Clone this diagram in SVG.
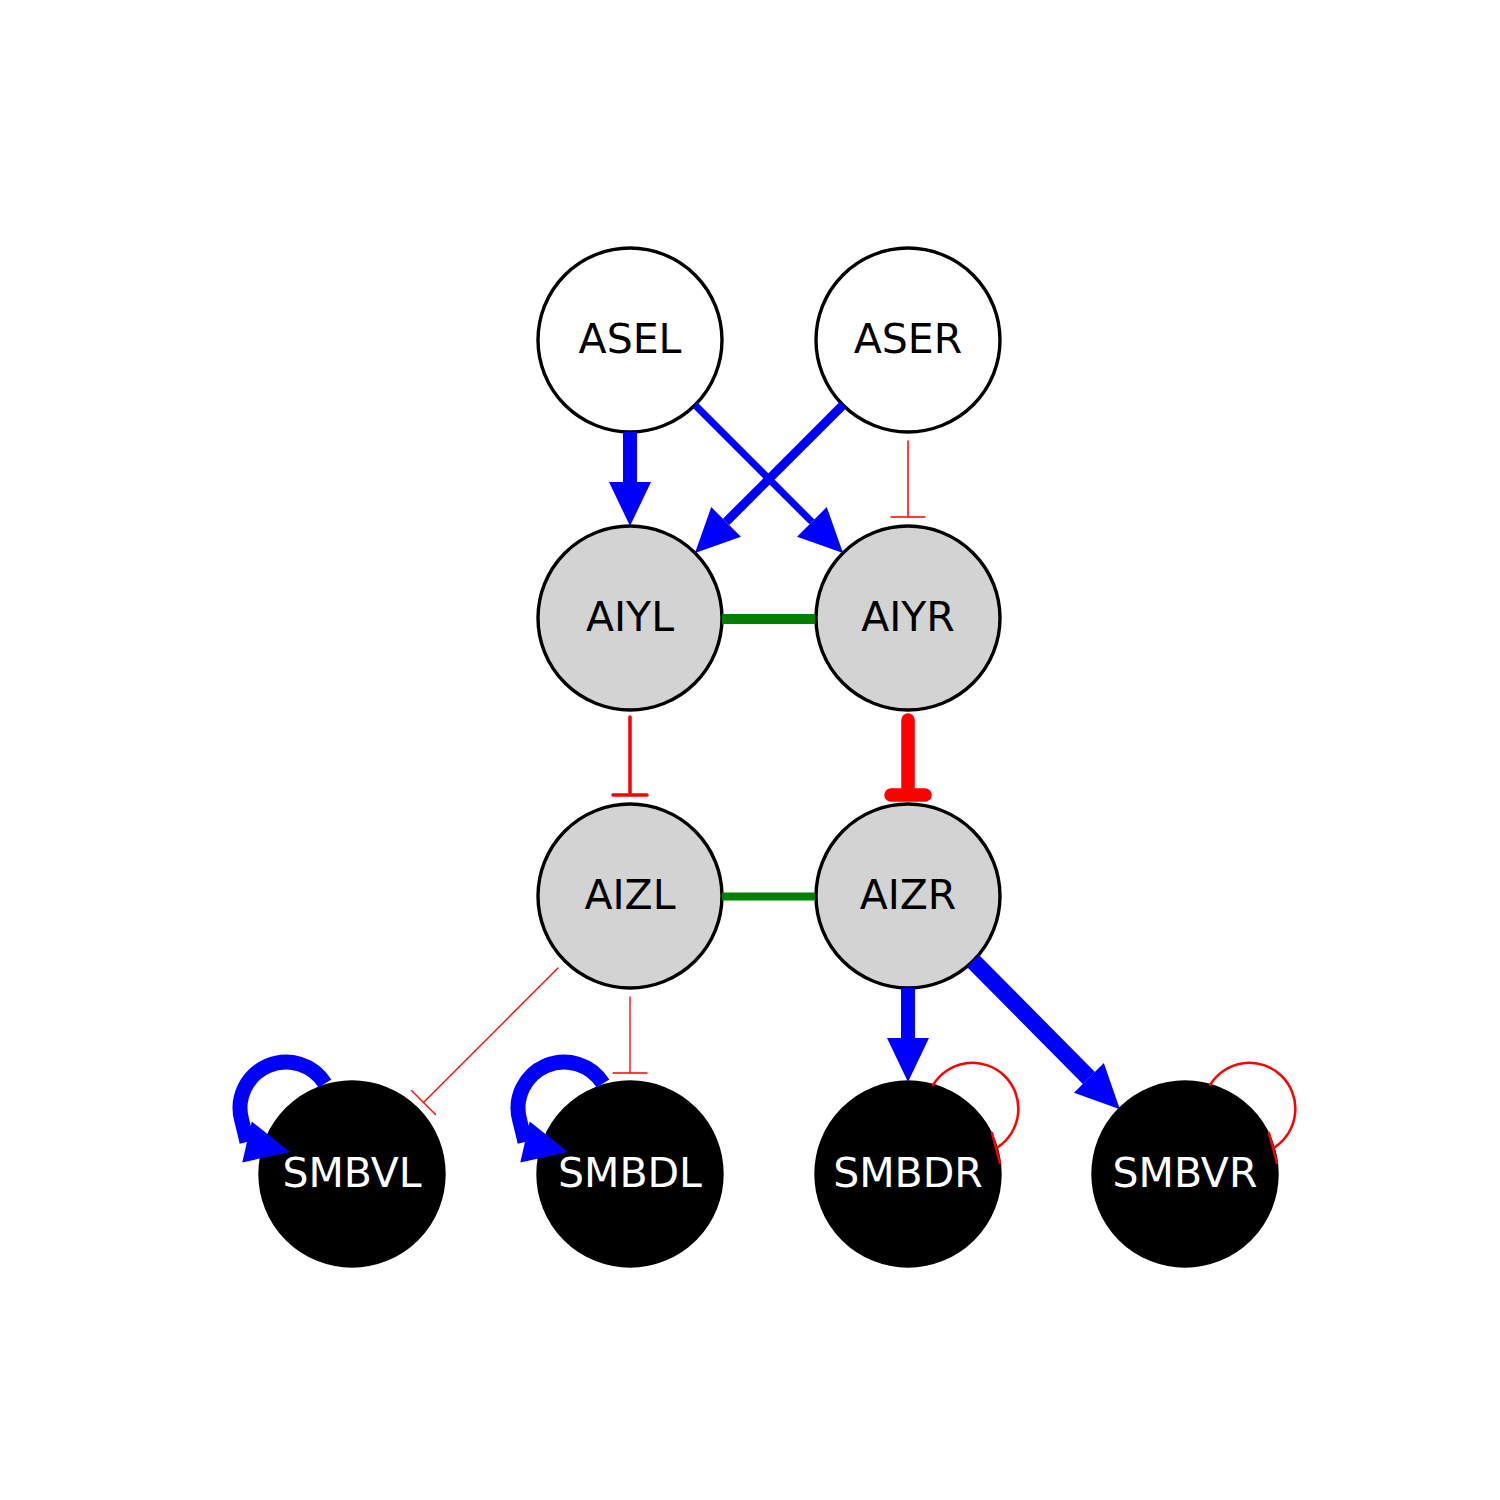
<svg xmlns="http://www.w3.org/2000/svg" width="1500" height="1500" viewBox="0 0 1500 1500">
<style>
.node circle{stroke:#000;stroke-width:3.4}
.sensory circle{fill:#fff}
.inter circle{fill:#d3d3d3}
.motor circle{fill:#000}
.node text{font-family:"DejaVu Sans","Liberation Sans",sans-serif;font-size:41px;text-anchor:middle;fill:#000}
.motor text{fill:#fff}
.exc{stroke:#0000ff;fill:none;marker-end:url(#head)}
.loop{stroke:#0000ff;fill:none;stroke-width:15;marker-end:url(#loophead)}
.inh{stroke:#ff0000;fill:none;stroke-linecap:round}
.gap{stroke:#008000;fill:none}
</style>
<defs>
<marker id="head" markerUnits="userSpaceOnUse" markerWidth="1" markerHeight="1" refX="0" refY="0" orient="auto" overflow="visible">
<path d="M0,-21 L44,0 L0,21 Z" fill="#0000ff"/>
</marker>
<marker id="loophead" markerUnits="userSpaceOnUse" markerWidth="1" markerHeight="1" refX="0" refY="0" orient="13" overflow="visible">
<path d="M0,-21 L44,0 L0,21 Z" fill="#0000ff"/>
</marker>
</defs>
<rect width="1500" height="1500" fill="#fff"/>
<g id="ASEL" class="node sensory"><circle cx="630" cy="340" r="92"/><text x="630" y="353">ASEL</text></g>
<g id="ASER" class="node sensory"><circle cx="908" cy="340" r="92"/><text x="908" y="353">ASER</text></g>
<g id="AIYL" class="node inter"><circle cx="630" cy="618" r="92"/><text x="630" y="631">AIYL</text></g>
<g id="AIYR" class="node inter"><circle cx="908" cy="618" r="92"/><text x="908" y="631">AIYR</text></g>
<g id="AIZL" class="node inter"><circle cx="630" cy="896" r="92"/><text x="630" y="909">AIZL</text></g>
<g id="AIZR" class="node inter"><circle cx="908" cy="896" r="92"/><text x="908" y="909">AIZR</text></g>
<g id="SMBVL" class="node motor"><circle cx="352" cy="1174" r="92"/><text x="352" y="1187">SMBVL</text></g>
<g id="SMBDL" class="node motor"><circle cx="630" cy="1174" r="92"/><text x="630" y="1187">SMBDL</text></g>
<g id="SMBDR" class="node motor"><circle cx="908" cy="1174" r="92"/><text x="908" y="1187">SMBDR</text></g>
<g id="SMBVR" class="node motor"><circle cx="1185" cy="1174" r="92"/><text x="1185" y="1187">SMBVR</text></g>
<g id="connectors">
<path class="gap" d="M722,619 L815,619" stroke-width="10"/>
<path class="gap" d="M722,896.5 L815,896.5" stroke-width="8"/>
<path class="exc" d="M630,432 L630,482" stroke-width="14"/>
<path class="exc" d="M695,405 L811.9,521.9" stroke-width="7"/>
<path class="exc" d="M843,405 L726.1,521.9" stroke-width="9"/>
<path class="exc" d="M908,988 L908,1038" stroke-width="14"/>
<path class="exc" d="M973,961 L1088.9,1077.9" stroke-width="17"/>
<path class="inh" d="M908,441 L908,517 M891,517 L925,517" stroke-width="1.5"/>
<path class="inh" d="M630,717 L630,795 M613,795 L647,795" stroke-width="3.5"/>
<path class="inh" d="M908,720 L908,795 M891,795 L925,795" stroke-width="13.5"/>
<path class="inh" d="M558,968 L423.5,1102.5 M411.5,1090.5 L435.5,1114.5" stroke-width="1.3"/>
<path class="inh" d="M630,997 L630,1073 M613,1073 L647,1073" stroke-width="1.3"/>
<path class="loop" d="M325,1083.6 A46,46 0 0 0 241.6,1119.9 Q244.2,1130 247,1142"/>
<path class="loop" d="M603,1083.6 A46,46 0 0 0 519.6,1119.9 Q522.2,1130 525,1142"/>
<path class="inh" d="M933,1085 A46,46 0 1 1 998,1147 M992,1133 L1000,1163" stroke-width="2.5"/>
<path class="inh" d="M1210,1085 A46,46 0 1 1 1275,1147 M1269,1133 L1277,1163" stroke-width="2.5"/>
</g>
</svg>
